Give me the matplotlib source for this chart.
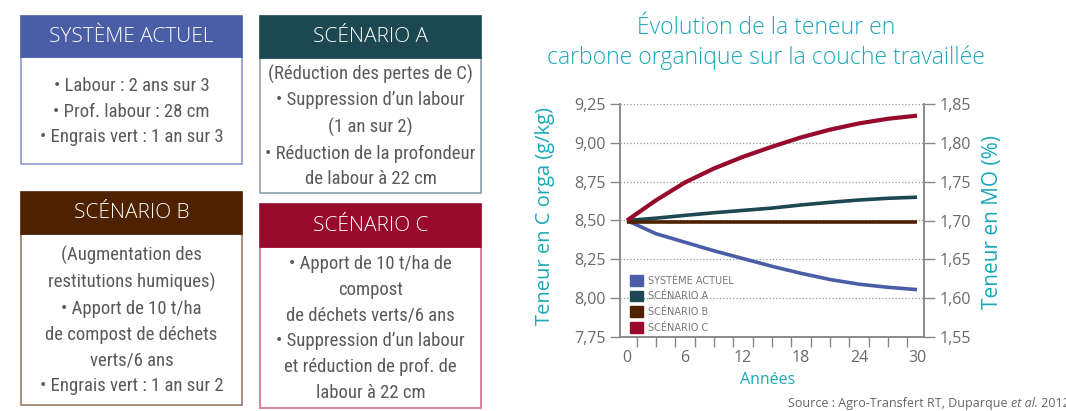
import numpy as np
import matplotlib.pyplot as plt
from matplotlib.patches import Rectangle, Patch

W, H = 1066, 411

# chart data (left axis: C orga g/kg)
years = [0, 3, 6, 9, 12, 15, 18, 21, 24, 27, 30]
systeme_actuel = [8.50, 8.415, 8.36, 8.305, 8.255, 8.205, 8.16, 8.12, 8.09, 8.07, 8.055]
scenario_a = [8.50, 8.515, 8.533, 8.55, 8.565, 8.58, 8.60, 8.617, 8.632, 8.643, 8.65]
scenario_b = [8.49, 8.49, 8.49, 8.49, 8.49, 8.49, 8.49, 8.49, 8.49, 8.49, 8.49]
scenario_c = [8.50, 8.63, 8.745, 8.835, 8.91, 8.975, 9.035, 9.085, 9.125, 9.155, 9.175]

series = [systeme_actuel, scenario_a, scenario_b, scenario_c]
series_labels = ["SYSTÈME ACTUEL", "SCÉNARIO A", "SCÉNARIO B", "SCÉNARIO C"]
series_colors = ["#4a5ea8", "#1d4852", "#4e2100", "#970a2c"]
series_widths = [2.6, 2.6, 2.6, 3.0]

left_ticks = [7.75, 8.00, 8.25, 8.50, 8.75, 9.00, 9.25]
right_ticks = [1.55, 1.60, 1.65, 1.70, 1.75, 1.80, 1.85]
x_ticks = [0, 6, 12, 18, 24, 30]

# scenario boxes
box_headers = ["SYSTÈME ACTUEL", "SCÉNARIO A", "SCÉNARIO B", "SCÉNARIO C"]
box_bodies = [
    "• Labour : 2 ans sur 3\n• Prof. labour : 28 cm\n• Engrais vert : 1 an sur 3",
    "(Réduction des pertes de C)\n• Suppression d’un labour\n(1 an sur 2)\n• Réduction de la profondeur\nde labour à 22 cm",
    "(Augmentation des\nrestitutions humiques)\n• Apport de 10 t/ha\nde compost de déchets\nverts/6 ans\n• Engrais vert : 1 an sur 2",
    "• Apport de 10 t/ha de\ncompost\nde déchets verts/6 ans\n• Suppression d’un labour\net réduction de prof. de\nlabour à 22 cm",
]
box_borders = ["#8b97cc", "#8aa2a8", "#9a7c6a", "#d07088"]
# x0, x1, header top, header bottom, body bottom (pixels)
box_geom = [(21, 242, 16, 57, 164), (260, 481, 16, 58, 193),
            (21, 242, 192, 234, 405), (260, 481, 204, 247, 408)]

cyan = "#1ba8b8"
grey = "#6a6a6a"
title_font = ["Open Sans", "DejaVu Sans"]
narrow_font = ["Roboto Condensed", "Noto Sans", "DejaVu Sans"]

fig = plt.figure(figsize=(W / 100, H / 100), dpi=100)


def fx(x):
    return x / W


def fy(y):
    return 1 - y / H


for (x0, x1, ht, hb, bb), head, body, col, bcol in zip(
        box_geom, box_headers, box_bodies, series_colors, box_borders):
    fig.add_artist(Rectangle((fx(x0), fy(bb)), fx(x1 - x0), (bb - hb) / H,
                             transform=fig.transFigure, facecolor="white",
                             edgecolor=bcol, lw=1.2))
    fig.add_artist(Rectangle((fx(x0), fy(hb)), fx(x1 - x0), (hb - ht) / H,
                             transform=fig.transFigure, facecolor=col,
                             edgecolor=col, lw=1.2))
    fig.text(fx((x0 + x1) / 2), fy((ht + hb) / 2), head, color="white",
             ha="center", va="center", fontsize=15, family=title_font,
             weight="light")
    fig.text(fx((x0 + x1) / 2), fy((hb + bb) / 2 + 1), body, color="#5a5a5a",
             ha="center", va="center", fontsize=13.5, family=narrow_font,
             stretch="condensed", weight="normal", linespacing=1.55)

# chart
ax = fig.add_axes([fx(620), fy(337), fx(924 - 620), (337 - 104) / H])
for vals, lab, col, lw in zip(series, series_labels, series_colors, series_widths):
    ax.plot(years, vals, color=col, lw=lw, label=lab, solid_capstyle="butt",
            solid_joinstyle="round")

ax.set_xlim(-0.72, 30.72)
ax.set_ylim(7.75, 9.25)
ax.set_yticks(left_ticks)
ax.set_yticklabels([f"{v:.2f}".replace(".", ",") for v in left_ticks])
ax.set_xticks(x_ticks)
ax.set_xticks(np.arange(1, 30, 2), minor=True)
ax.tick_params(axis="x", which="major", length=0, pad=9)
ax.tick_params(axis="x", which="minor", length=7, width=1, color="#888888")
ax.tick_params(axis="y", length=7, width=1, color="#888888")
ax.tick_params(labelsize=11.5, labelcolor=grey)
ax.yaxis.grid(True, linestyle=":", color="#999999", lw=0.9)

ax2 = ax.twinx()
ax2.set_ylim(1.55, 1.85)
ax2.set_yticks(right_ticks)
ax2.set_yticklabels([f"{v:.2f}".replace(".", ",") for v in right_ticks])
ax2.tick_params(axis="y", length=8, width=1, color="#888888",
                labelsize=11.5, labelcolor=grey)

for a in (ax, ax2):
    a.spines["top"].set_visible(False)
    for s in ("left", "right", "bottom"):
        a.spines[s].set_color("#888888")
        a.spines[s].set_linewidth(1.1)
    for lab in a.get_xticklabels() + a.get_yticklabels():
        lab.set_family(title_font)

ax.set_xlabel("Années", color=cyan, fontsize=11.5, family=title_font)
ax.xaxis.set_label_coords(0.487, -0.15)
ax.set_ylabel("Teneur en C orga (g/kg)", color=cyan, fontsize=14.5,
              family=title_font)
ax.yaxis.set_label_coords(-0.214, 0.519)
ax2.set_ylabel("Teneur en MO (%)", color=cyan, fontsize=15,
               family=title_font, rotation=90)
ax2.yaxis.set_label_coords(1.191, 0.494)

handles = [Patch(facecolor=c, edgecolor=c) for c in series_colors]
ax.legend(handles, series_labels, loc="lower left", bbox_to_anchor=(0.033, 0.017),
          frameon=False, fontsize=7, labelcolor="#777777", handlelength=1.35,
          handleheight=1.35, labelspacing=0.5, handletextpad=0.5,
          borderpad=0, borderaxespad=0)

fig.text(fx(766), fy(43), "Évolution de la teneur en\ncarbone organique sur la couche travaillée",
         color=cyan, ha="center", va="center", fontsize=16.5, family=title_font,
         weight="light", linespacing=1.35)

src = fig.text(fx(788), fy(410), "Source : Agro-Transfert RT, Duparque ", color="#666666",
               fontsize=9, family=title_font, va="bottom")
ann = plt.annotate("et al.", xy=(1, 0), xycoords=src, va="bottom", ha="left",
                   color="#666666", fontsize=9, family=title_font, style="italic",
                   annotation_clip=False)
plt.annotate(" 2012", xy=(1, 0), xycoords=ann, va="bottom", ha="left",
             color="#666666", fontsize=9, family=title_font, annotation_clip=False)

fig.savefig("out.png", dpi=100)
